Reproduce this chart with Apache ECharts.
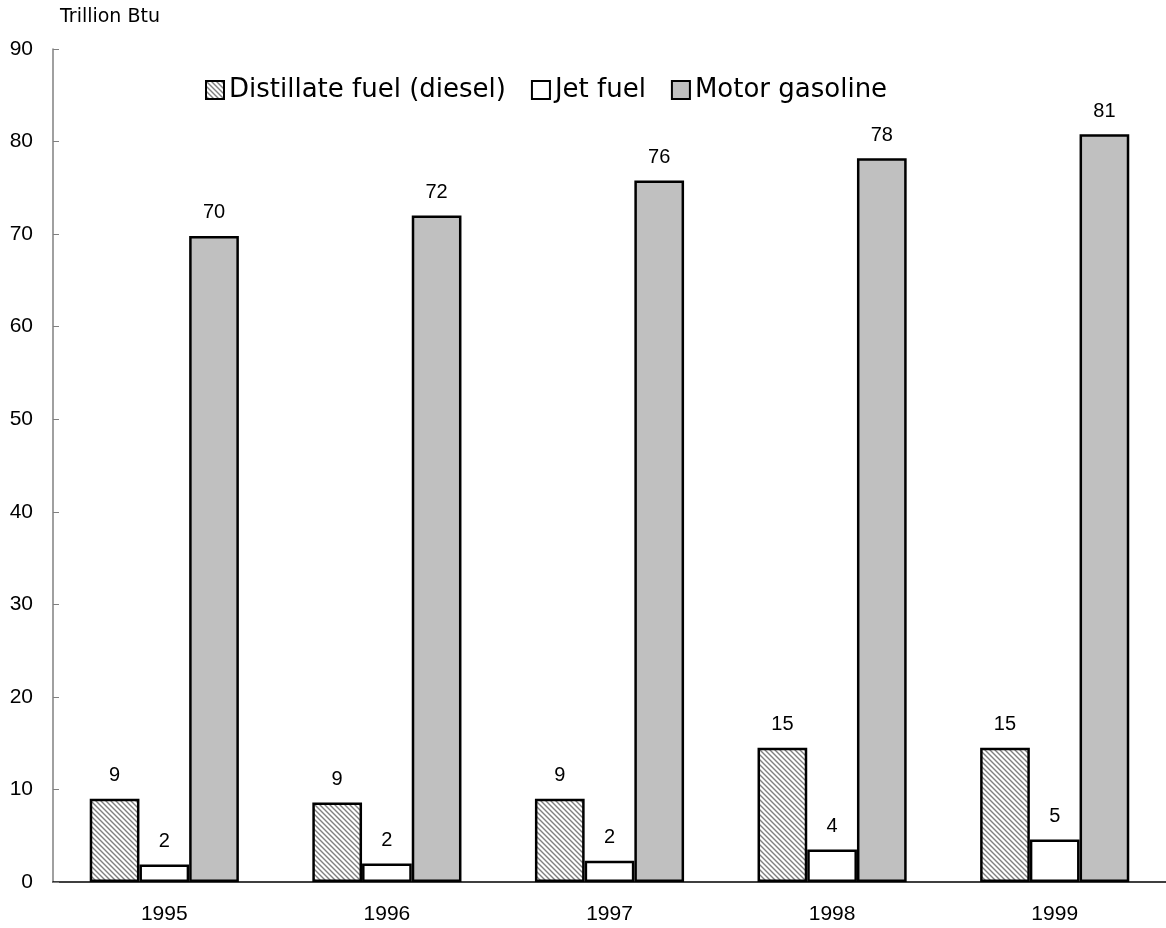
<!DOCTYPE html>
<html><head><meta charset="utf-8">
<script src="https://cdn.jsdelivr.net/npm/echarts@6/dist/echarts.min.js"></script>
<style>html,body{margin:0;padding:0;background:#fff}#c{width:1166px;height:928px}</style>
</head><body><div id="c"></div>
<script>
const years = ['1995','1996','1997','1998','1999'];
const distillate = [9.0, 8.6, 9.0, 14.5, 14.5];
const jetFuel = [1.9, 2.0, 2.3, 3.5, 4.6];
const motorGasoline = [69.8, 72.0, 75.8, 78.2, 80.8];
const yTicks = [0,10,20,30,40,50,60,70,80,90];

const pat = document.createElement('canvas');
pat.width = 5; pat.height = 5;
const pc = pat.getContext('2d');
pc.fillStyle = '#fff'; pc.fillRect(0,0,5,5);
pc.strokeStyle = '#808080'; pc.lineWidth = 1.4;
pc.beginPath();
pc.moveTo(-1,-1); pc.lineTo(6,6);
pc.moveTo(-4,1); pc.lineTo(4,9);
pc.moveTo(1,-4); pc.lineTo(9,4);
pc.stroke();

const numFont = 'Liberation Sans';
const txtFont = 'DejaVu Sans';
const lbl = {show:true, position:'top', distance:13, fontSize:20, color:'#000', fontFamily:numFont,
  formatter: p => Math.round(p.value)};
const chart = echarts.init(document.getElementById('c'));
chart.setOption({
  animation:false,
  textStyle:{fontFamily:numFont},
  legend:{left:200, top:72, icon:'rect', itemWidth:18, itemHeight:18, itemGap:25,
    textStyle:{fontSize:26, color:'#000', fontFamily:txtFont},
    data:['Distillate fuel (diesel)','Jet fuel','Motor gasoline']},
  grid:{left:53, top:49, width:1119, height:833, containLabel:false},
  xAxis:{type:'category', data:years,
    axisLine:{lineStyle:{color:'#000', width:1.5}}, axisTick:{show:false},
    axisLabel:{fontSize:21, color:'#000', margin:22, fontFamily:numFont}},
  yAxis:{type:'value', min:yTicks[0], max:yTicks[yTicks.length-1], interval:10,
    name:'Trillion Btu', nameLocation:'end', nameGap:22,
    nameTextStyle:{fontSize:19, color:'#000', align:'left', padding:[0,0,0,7], fontFamily:txtFont},
    axisLine:{show:true, lineStyle:{color:'#808080', width:1.5}},
    axisTick:{show:true, inside:true, length:6, lineStyle:{color:'#808080'}},
    splitLine:{show:false},
    axisLabel:{fontSize:21, color:'#000', margin:20, fontFamily:numFont}},
  series:[
    {name:'Distillate fuel (diesel)', type:'bar', data:distillate, barGap:'0%', barCategoryGap:'33%',
     itemStyle:{color:{image:pat, repeat:'repeat'}, borderColor:'#000', borderWidth:2.5}, label:lbl},
    {name:'Jet fuel', type:'bar', data:jetFuel, barGap:'0%',
     itemStyle:{color:'#fff', borderColor:'#000', borderWidth:2.5}, label:lbl},
    {name:'Motor gasoline', type:'bar', data:motorGasoline, barGap:'0%',
     itemStyle:{color:'#c0c0c0', borderColor:'#000', borderWidth:2.5}, label:lbl}
  ]
});
</script></body></html>
